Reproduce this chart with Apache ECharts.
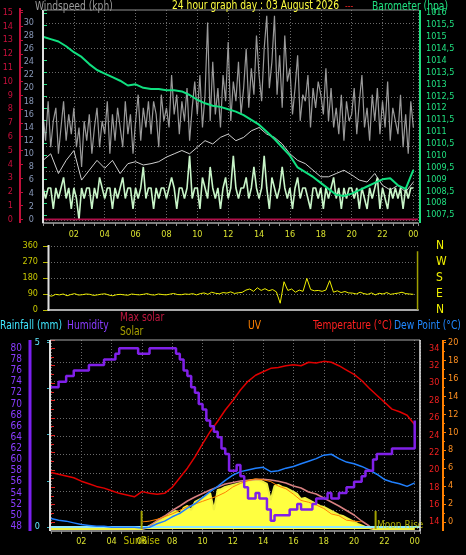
<!DOCTYPE html>
<html><head><meta charset="utf-8">
<script src="https://cdn.jsdelivr.net/npm/echarts@6/dist/echarts.min.js"></script>
<style>html,body{margin:0;padding:0;background:#000;}#c{width:466px;height:555px;}</style>
</head><body><div id="c"></div>
<script>
// ---------------- DATA ----------------
// hour tick labels (every 2 h)
const hourTickLabels = ['02','04','06','08','10','12','14','16','18','20','22','00'];
const compassLabels = {0:'N', 90:'E', 180:'S', 270:'W', 360:'N'};

// Wind gust (kph), every 10 min from 00:00
const gustKph = [
16,12,18,11,15,17, 10,14,18,12,16,13, 17,11,14,8,15,12, 16,10,14,17,11,15,
13,18,10,16,12,17, 14,11,18,13,16,10, 15,19,12,17,14,18, 13,18,16,11,19,15,
17,14,22,16,19,13, 18,15,20,12,17,21, 16,22,14,19,30,15, 24,16,20,14,22,18,
27,15,21,18,24,16, 20,26,17,23,19,28, 22,18,26,31,20,24, 31,19,25,17,28,21,
23,16,20,25,15,19, 18,22,14,20,17,21, 19,16,23,15,20,14, 17,13,19,12,18,15,
16,20,13,18,22,14, 17,12,19,15,20,13, 18,14,21,12,17,15, 13,19,11,16,10,18, 14];
// Average wind (kph), every 30 min
const avgWindKph = [9,10,7,9,10.5,6,7.5,9,7.8,9,7,8.5,8.8,8.3,8.5,8.8,9.5,10,10.5,10,
11,12,11.5,12.5,13,12,12.5,13.5,14,13,12.5,11.5,10,9,8.5,7.5,6.5,6.5,7,7.5,6.8,6,5.7,7,5.2,4.5,5.2,4.2,5.7];
// Wind speed (kph), every 10 min
const windSpeedKph = [
4.8,3.2,4.8,4.8,1.6,4.8, 3.2,4.8,6.4,3.2,4.8,1.6, 4.8,3.2,0,4.8,3.2,4.8, 4.8,1.6,4.8,3.2,6.4,4.8,
3.2,4.8,4.8,1.6,4.8,3.2, 4.8,6.4,3.2,4.8,4.8,1.6, 4.8,3.2,4.8,8.0,3.2,4.8, 4.8,1.6,4.8,3.2,4.8,4.8,
3.2,4.8,6.4,4.8,1.6,4.8, 4.8,3.2,4.8,9.7,3.2,4.8, 4.8,1.6,6.4,4.8,3.2,8.0, 4.8,3.2,4.8,1.6,4.8,6.4,
3.2,4.8,9.7,4.8,3.2,4.8, 4.8,6.4,3.2,4.8,8.0,4.8, 3.2,4.8,9.7,4.8,1.6,6.4, 4.8,3.2,4.8,8.0,4.8,3.2,
4.8,1.6,4.8,6.4,3.2,4.8, 4.8,3.2,1.6,4.8,4.8,3.2, 4.8,1.6,4.8,3.2,4.8,6.4, 3.2,4.8,1.6,4.8,3.2,4.8,
4.8,3.2,4.8,1.6,4.8,3.2, 1.6,4.8,3.2,4.8,6.4,1.6, 4.8,3.2,1.6,4.8,3.2,4.8, 3.2,4.8,1.6,4.8,3.2,4.8, 4.8];
// Rain rate (red axis)
const rainRateHours = [0, 24.3];
const rainRateValues = [0, 0];
// Barometer (hPa), every 30 min
const baroHpa = [1015.0,1014.9,1014.8,1014.6,1014.35,1014.15,1013.85,1013.6,1013.45,1013.3,
1013.15,1012.95,1013.0,1012.85,1012.8,1012.8,1012.75,1012.75,1012.7,1012.55,
1012.35,1012.2,1012.1,1012.05,1011.95,1011.85,1011.7,1011.5,1011.3,1011.0,
1010.7,1010.35,1010.0,1009.5,1009.3,1009.1,1008.85,1008.6,1008.35,1008.3,
1008.4,1008.55,1008.7,1008.85,1009.0,1009.05,1008.75,1008.6,1009.4];
// Wind direction (deg), every 15 min
const windDirDeg = [82,78,88,85,90,80,87,92,84,86,90,88,82,85,89,91,84,80,86,88,85,83,90,87,85,88,92,86,84,90,87,85,89,93,87,86,90,88,92,85,
92,96,88,100,94,91,98,95,102,93,97,99,
112,118,105,125,110,120,108,115,
102,38,159,110,118,100,112,105,178,115,108,110,
105,112,165,100,108,98,104,96,
95,90,100,92,88,96,85,94,90,98,88,92,95,100,92,90, 88];
const windDirTailHours = [24.27, 24.27];
const windDirTailValues = [2, 330];
// Humidity (%), every 15 min
const humidityPct = [73,73,74,74,75,75,76,76,76,76,77,77,77,77,78,78,78,79,80,80,80,80,80,79,
79,79,80,80,80,80,80,80,80,79,78,76,75,73,72,70,69,67,66,65,64,62,61,58,
58,59,57,55,53,53,54,53,53,51,49,50,50,50,50,51,51,52,51,51,51,52,53,53,
53,54,53,53,54,54,55,55,56,56,57,58,58,60,61,61,61,61,62,62,62,62,62,62, 67];
// Temperature and dew point (°C), every 30 min
const temperatureC = [19.7,19.5,19.3,19.1,18.7,18.4,18.1,17.9,17.6,17.3,17.1,16.9,17.5,17.3,17.2,17.3,
18.0,19.1,20.2,21.5,23.0,24.4,25.6,26.9,28.0,29.2,30.2,30.9,31.3,31.7,31.8,32.0,32.1,32.0,
32.4,32.3,32.5,32.4,32.0,31.5,31.0,30.3,29.4,28.6,27.8,27.0,26.7,26.3,25.2];
const dewPointC = [14.4,14.2,14.1,13.9,13.7,13.6,13.5,13.5,13.4,13.4,13.4,13.4,13.3,13.4,13.8,14.1,
14.6,15.0,15.6,16.1,16.8,17.5,18.1,18.8,19.4,19.8,20.0,20.2,20.3,19.8,19.9,20.2,20.4,20.7,
21.0,21.3,21.7,21.8,21.3,20.9,20.7,20.4,20.0,19.5,18.9,18.6,18.4,18.1,18.5];
// UV index, every 30 min from 06:00
const uvStartHour = 6;
const uvIndex = [0,0.1,0.3,0.6,0.9,1.3,1.7,2.0,2.3,2.6,2.9,3.3,3.9,4.3,4.6,4.8,4.7,4.5,4.0,3.7,3.1,2.4,2.2,1.9,1.5,0.9,0.7,0.2,0.1,0];
// Solar radiation (W/m2), every 15 min
const solarWm2 = [0,0,0,0,0,0,0,0,0,0,0,0,0,0,0,0,0,0,0,0,0,0,0,0,
0,20,60,100,140,180,220,280,320,360,300,420,460,380,540,580,620,660,720,380,
780,800,840,860,880,900,920,940,960,980,985,980,940,900,580,860,880,840,820,780,
740,700,600,620,580,540,500,460,440,400,360,320,280,260,220,180,140,100,70,40,20,0,
0,0,0,0,0,0,0,0,0,0,0];
// Max (theoretical) solar
const maxSolarHours = [6.0,6.5,7,7.5,8,8.5,9,9.5,10,10.5,11,11.5,12,12.5,13,13.5,14,14.5,15,15.5,16,16.5,17,17.5,18,18.5,19,19.5,20,20.5,21,21.25];
const maxSolarWm2 = [0,60,170,260,370,460,560,640,710,780,840,900,930,960,976,990,994,980,954,920,860,820,740,700,620,540,460,370,280,160,60,0];
// Rainfall (mm)
const rainfallHours = [0, 24.35];
const rainfallMm = [0, 0];
// Events
const sunRiseHour = 5.98;
const moonRiseHour = 21.42;
const eventMarkerHeight = [0, 360];

// ---------------- HELPERS ----------------
const FONT = '"Liberation Sans Narrow","DejaVu Sans Condensed","Liberation Sans",sans-serif';
function pts(start, step, vals) { return vals.map((v, i) => [Math.round((start + i * step) * 1000) / 1000, v]); }
function zipPts(xs, ys) { return xs.map((x, i) => [x, ys[i]]); }
const isInt = v => Math.abs(v - Math.round(v)) < 1e-6;
const hourFmt = v => (v > 0 && v <= 24 && isInt(v) && Math.round(v) % 2 === 0) ? hourTickLabels[Math.round(v) / 2 - 1] : '';
const lbl = (color, extra) => Object.assign({color: color, fontSize: 9, fontFamily: FONT}, extra || {});
const dotted = {lineStyle: {color: '#6a6a6a', type: [1, 2], width: 1}};

const TOP = {left: 43, width: 375};
const WD = {left: 48, width: 370};
const BOT = {left: 51, width: 369};
function grid(g, top, height) { return {left: g.left, width: g.width, top: top, height: height, outerBoundsMode: 'none', containLabel: false}; }

const grids = [
  grid(TOP, 10, 209.5),     // 0 windspeed + red axis
  grid(TOP, 10, 205),       // 1 barometer
  grid(TOP, 10, 213),       // 2 top frame (x labels)
  grid(TOP, 23.2, 196.8),   // 3 top horizontal grid lines
  grid(WD, 246, 64),        // 4 wind direction
  grid(BOT, 340, 182),      // 5 temperature + UV
  grid(BOT, 340, 186.3),    // 6 humidity
  grid(BOT, 340, 187),      // 7 rainfall
  grid(BOT, 340, 189),      // 8 solar
  grid(BOT, 340, 191),      // 9 bottom frame (x labels)
  grid(BOT, 362.7, 165.6)   // 10 bottom horizontal grid lines
];
const xMax = [24.3, 24.3, 24.3, 24.3, 24.3, 24.35, 24.35, 24.35, 24.35, 24.35, 24.35];
const xAxes = grids.map((g, i) => ({gridIndex: i, type: 'value', min: 0, max: xMax[i], interval: 2, show: false}));
function frameX(i, labelMargin) {
  Object.assign(xAxes[i], {
    show: true,
    axisLine: {show: true, lineStyle: {color: '#a8a8a8', width: 1.5}},
    axisTick: {show: true, length: 3, lineStyle: {color: '#909090'}},
    minorTick: {show: true, splitNumber: 3, length: 3, lineStyle: {color: '#909090'}},
    axisLabel: lbl('#d8e030', {margin: labelMargin, formatter: hourFmt}),
    splitLine: Object.assign({show: true}, dotted)
  });
}
frameX(2, 7);
frameX(9, 6);
Object.assign(xAxes[4], {show: true, axisLine: {show: true, lineStyle: {color: '#a8a8a8', width: 2}}, axisTick: {show: false}, axisLabel: {show: false}, splitLine: {show: false}});

const hidden = i => ({gridIndex: i, type: 'value', show: false, min: 0, max: 1});
const gridLinesY = (i, max) => ({gridIndex: i, type: 'value', min: 0, max: max, interval: 1, axisLine: {show: false}, axisTick: {show: false}, axisLabel: {show: false}, splitLine: Object.assign({show: true}, dotted)});

const yAxes = [
  // 0 windspeed
  {gridIndex: 0, type: 'value', min: 0, max: 31.89, interval: 2, position: 'left', axisLine: {show: false}, axisTick: {show: false}, splitLine: {show: false},
   axisLabel: lbl('#8898b8', {margin: 9, formatter: v => (v <= 30 && isInt(v)) ? String(v) : ''})},
  // 1 red axis (0-15)
  {gridIndex: 0, type: 'value', min: 0, max: 15.18, interval: 1, position: 'left', offset: 23, axisLine: {show: false},
   axisTick: {show: true, inside: true, length: 3, lineStyle: {color: '#c0103a'}}, splitLine: {show: false},
   axisLabel: lbl('#c8103c', {margin: 7, formatter: v => isInt(v) ? String(v) : ''})},
  // 2 barometer
  {gridIndex: 1, type: 'value', min: 1007.5, max: 1016.126, interval: 0.5, position: 'right', offset: 2, axisLine: {show: false},
   axisTick: {show: true, length: 4, lineStyle: {color: '#20e080'}}, splitLine: {show: false},
   axisLabel: lbl('#20e080', {margin: 6, formatter: v => isInt(v * 2) ? String(v).replace('.', ',') : ''})},
  // 3 hidden top frame
  hidden(2),
  // 4 top grid lines
  gridLinesY(3, 8),
  // 5 wind direction degrees
  {gridIndex: 4, type: 'value', min: 0, max: 360, interval: 90, position: 'left', axisLine: {show: false},
   axisTick: {show: true, length: 5, lineStyle: {color: '#b8b800'}}, splitLine: Object.assign({show: true}, dotted),
   axisLabel: lbl('#c8c800', {margin: 10})},
  // 6 wind direction compass
  {gridIndex: 4, type: 'value', min: 0, max: 360, interval: 90, position: 'right', axisLine: {show: false}, axisTick: {show: false}, splitLine: {show: false},
   axisLabel: {color: '#f0f000', fontSize: 12, fontFamily: FONT, margin: 18, formatter: v => compassLabels[v] || ''}},
  // 7 temperature
  {gridIndex: 5, type: 'value', min: 14, max: 34.96, interval: 2, position: 'right', offset: 1, axisLine: {show: false},
   axisTick: {show: true, length: 4, lineStyle: {color: '#e02020'}}, minorTick: {show: true, splitNumber: 2, length: 3, lineStyle: {color: '#e02020'}},
   splitLine: {show: false}, axisLabel: lbl('#f02020', {margin: 8, formatter: v => (isInt(v) && v <= 34) ? String(v) : ''})},
  // 8 UV
  {gridIndex: 5, type: 'value', min: 0, max: 20.26, interval: 2, position: 'right', offset: 23, axisLine: {show: false},
   axisTick: {show: true, length: 3, lineStyle: {color: '#ff8000'}}, minorTick: {show: true, splitNumber: 2, length: 2, lineStyle: {color: '#ff8000'}},
   splitLine: {show: false}, axisLabel: lbl('#ff9020', {margin: 5, formatter: v => (isInt(v) && v <= 20) ? String(v) : ''})},
  // 9 humidity
  {gridIndex: 6, type: 'value', min: 48, max: 81.49, interval: 2, position: 'left', offset: 21, axisLine: {show: false},
   axisTick: {show: true, length: 2, lineStyle: {color: '#7a20f0'}}, splitLine: {show: false},
   axisLabel: lbl('#8a3cff', {margin: 8, fontSize: 10, formatter: v => (isInt(v) && v <= 80) ? String(v) : ''})},
  // 10 rainfall
  {gridIndex: 7, type: 'value', min: 0, max: 5.062, interval: 1.25, position: 'left', offset: 2, axisLine: {show: false},
   axisTick: {show: true, length: 4, lineStyle: {color: '#40b8c8'}}, splitLine: {show: false},
   axisLabel: lbl('#60e8ff', {margin: 9, formatter: v => (v === 0 || v === 5) ? String(v) : ''})},
  // 11 solar (hidden)
  {gridIndex: 8, type: 'value', min: 0, max: 3780, show: false},
  // 12 hidden bottom frame
  hidden(9),
  // 13 bottom grid lines
  gridLinesY(10, 9)
];

const line = (name, xi, yi, data, color, width, extra) => Object.assign({
  name: name, type: 'line', xAxisIndex: xi, yAxisIndex: yi, data: data, symbol: 'none',
  lineStyle: {color: color, width: width}, itemStyle: {color: color}, animation: false
}, extra || {});

const series = [
  line('Gust', 0, 0, pts(0, 1/6, gustKph), '#9a9a9a', 1.2, {z: 2}),
  line('Avg wind', 0, 0, pts(0, 0.5, avgWindKph), '#cfcfcf', 1, {z: 3}),
  line('Wind speed', 0, 0, pts(0, 1/6, windSpeedKph), '#c8f5c8', 1.6, {z: 4}),
  line('Rain rate', 0, 1, zipPts(rainRateHours, rainRateValues), '#b0104a', 2, {z: 5}),
  line('Barometer', 1, 2, pts(0, 0.5, baroHpa), '#10e080', 2, {z: 6}),
  line('Wind direction', 4, 5, pts(0, 0.25, windDirDeg), '#f0f000', 1, {z: 3}),
  line('Wind direction last', 4, 5, zipPts(windDirTailHours, windDirTailValues), '#a0a000', 1.5, {z: 3}),
  line('Solar', 8, 11, pts(0, 0.25, solarWm2), '#f0f040', 2, {z: 2, areaStyle: {color: '#ffff40', opacity: 1}}),
  line('Max solar', 8, 11, zipPts(maxSolarHours, maxSolarWm2), '#d88080', 1.5, {z: 3}),
  line('UV', 5, 8, pts(uvStartHour, 0.5, uvIndex), '#ff8000', 1, {z: 4}),
  line('Rainfall', 7, 10, zipPts(rainfallHours, rainfallMm), '#90e8ff', 2, {z: 4}),
  line('Dew Point', 5, 7, pts(0, 0.5, dewPointC), '#2080ff', 1.5, {z: 5, clip: false}),
  line('Temperature', 5, 7, pts(0, 0.5, temperatureC), '#e00000', 1.5, {z: 6}),
  line('Humidity', 6, 9, pts(0, 0.25, humidityPct), '#8020e8', 2.5, {step: 'end', z: 7}),
  line('SunRise', 8, 11, eventMarkerHeight.map(v => [sunRiseHour, v]), '#a0a000', 2, {z: 8, clip: false}),
  line('Moon Rise', 8, 11, eventMarkerHeight.map(v => [moonRiseHour, v]), '#a0a000', 2, {z: 8, clip: false}),
  {type: 'scatter', xAxisIndex: 8, yAxisIndex: 11, symbolSize: 1, itemStyle: {color: 'rgba(0,0,0,0)'}, animation: false, clip: false, z: 9,
   data: [
     {value: [sunRiseHour, 0], label: {show: true, formatter: 'SunRise', position: 'bottom', distance: 7, color: '#e8e800', fontSize: 10, fontFamily: FONT}},
     {value: [moonRiseHour, 0], label: {show: true, formatter: 'Moon Rise', position: 'right', distance: 1, offset: [0, -4], color: '#d8d800', fontSize: 10, fontFamily: FONT}}
   ]}
];

const vline = (x, y1, y2, color, w) => ({type: 'line', z: 100, shape: {x1: x, y1: y1, x2: x, y2: y2}, style: {stroke: color, lineWidth: w}});
const hline = (y, x1, x2, color, w) => ({type: 'line', z: 100, shape: {x1: x1, y1: y, x2: x2, y2: y}, style: {stroke: color, lineWidth: w}});
const txt = (s, x, y, color, size) => ({type: 'text', z: 100, x: x, y: y, scaleX: 0.85, originX: 0, originY: 0,
  style: {text: s, fill: color, font: (size || 12) + 'px ' + FONT, align: 'left', verticalAlign: 'middle'}});

const graphic = [
  vline(20, 8, 223, '#c0103a', 2),
  vline(43, 10, 223, '#e0e0e0', 2),
  hline(10, 43, 418, '#909090', 1),
  vline(420, 10, 223, '#20e080', 2),
  vline(48.5, 245, 311, '#e0e0e0', 2),
  hline(340, 50, 420, '#a8a8a8', 1),
  vline(50, 340, 531, '#e0e0e0', 2),
  vline(420, 340, 531, '#e8e8e8', 1.5),
  vline(30, 340, 531, '#7a20f0', 3),
  vline(443, 340, 531, '#ff8000', 2),
  txt('Windspeed (kph)', 35, 7, '#9a9a9a', 12),
  txt('24 hour graph day : 03 August 2026', 172, 6, '#ffff40', 12),
  txt('---', 345, 6, '#e02020', 10),
  txt('Barometer (hpa)', 372, 7, '#20e080', 12),
  txt('Rainfall (mm)', 0, 326, '#40e8ff', 12),
  txt('Humidity', 67, 326, '#8a3cff', 12),
  txt('Max solar', 120, 318, '#c01840', 12),
  txt('Solar', 120, 332, '#a8a000', 12),
  txt('UV', 248, 326, '#ff8000', 12),
  txt('Temperature (°C)', 313, 326, '#ff2020', 12),
  txt('Dew Point (°C)', 394, 326, '#2088ff', 12)
];

const chart = echarts.init(document.getElementById('c'), null, {renderer: 'canvas'});
chart.setOption({
  backgroundColor: '#000000',
  animation: false,
  grid: grids,
  xAxis: xAxes,
  yAxis: yAxes,
  series: series,
  graphic: graphic
});
</script>
</body></html>
